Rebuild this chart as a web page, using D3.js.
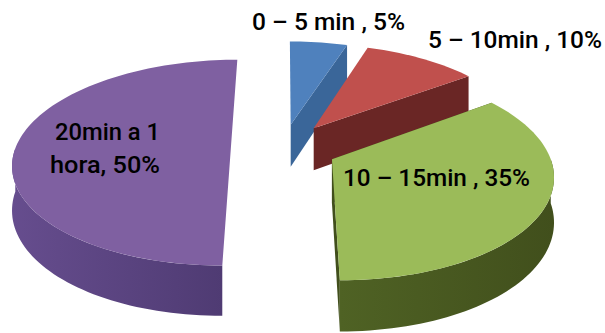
<!DOCTYPE html>
<html>
<head>
<meta charset="utf-8">
<style>
html,body{margin:0;padding:0;background:#fff;}
svg{display:block;}
text{font-family:Roboto,"Noto Sans",sans-serif;font-weight:500;fill:#000;}
</style>
<script src="https://cdn.jsdelivr.net/npm/d3@7/dist/d3.min.js"></script>
</head>
<body>
<svg id="chart" width="605" height="333"></svg>
<script>
// Time bands and their shares (%)
const categories = ["0 – 5 min", "5 – 10min", "10 – 15min", "20min a 1 hora"];
const shares = [5, 10, 35, 50];
const labelLines = [["0 – 5 min , 5%"], ["5 – 10min , 10%"], ["10 – 15min , 35%"], ["20min a 1", "hora, 50%"]];

// Face colours per slice
const topColors = ["#4f81bd", "#c0504d", "#9bbb59", "#7f60a1"];
const wallColors = [["#3f6ea6", "#3a6699"], ["#752c2b", "#6a2625"], ["#4f6224", "#414f1c"], ["#664d8e", "#4f3b73"]];

// Perspective camera: vanishing point, disc radius, tilt and extrusion
const vanishX = 284, vanishY = -579, planeDist = 739;
const radius = 219, tilt = 0.141, thickness = 44;
// Exploded placement of each slice on the ground plane
const offsetX = [7, 31, 48, -54];
const depth = [1.05, 1.045, 1.001, 1.016];
// Which straight side walls can be seen: [at start angle, at end angle]
const sideWalls = [[false, true], [false, true], [true, true], [false, false]];

// Label placement: line starts, baselines and set widths
const labelX = [[252], [428], [343], [55, 50]];
const labelY = [[30], [48], [186], [140, 173]];
const labelWidth = [[153], [174], [187], [105, 110]];

const svg = d3.select("#chart");
const defs = svg.append("defs");
wallColors.forEach((c, i) => {
  const g = defs.append("linearGradient").attr("id", "wall" + i)
    .attr("gradientUnits", "objectBoundingBox").attr("x1", 0).attr("x2", 1).attr("y1", 0).attr("y2", 0);
  g.append("stop").attr("offset", "0%").attr("stop-color", c[0]);
  g.append("stop").attr("offset", "100%").attr("stop-color", c[1]);
});

// Ground-plane point (polar, clockwise from far side) to screen coordinates
function project(i, angle, r, lift) {
  const u = Math.sin(angle) * r, v = Math.cos(angle) * r;
  const s = 1 / (depth[i] + tilt * v);
  return [vanishX + s * (offsetX[i] + radius * u),
          vanishY + planeDist * s + (lift ? thickness * s : 0)];
}

const pie = d3.pie().sort(null);
const arcs = pie(shares);
const line = d3.line();

function rimPoints(i, a0, a1, lift) {
  const n = Math.max(2, Math.ceil((a1 - a0) / 0.03));
  return d3.range(n + 1).map(k => project(i, a0 + (a1 - a0) * k / n, 1, lift));
}

// Painter's order follows the pie order: later slices sit in front
arcs.forEach((d, i) => {
  const g = svg.append("g").attr("class", "slice").attr("data-category", categories[i]);
  const a0 = d.startAngle, a1 = d.endAngle;
  const apexTop = project(i, 0, 0, false), apexLow = project(i, 0, 0, true);

  // straight side walls
  [[a0, sideWalls[i][0]], [a1, sideWalls[i][1]]].forEach(([a, show]) => {
    if (!show) return;
    g.append("path")
      .attr("d", line([apexTop, project(i, a, 1, false), project(i, a, 1, true), apexLow]) + "Z")
      .attr("fill", wallColors[i][1]);
  });

  // curved outer wall, only the part facing the viewer
  const front0 = Math.max(a0, Math.PI / 2), front1 = Math.min(a1, Math.PI * 1.5);
  if (front1 > front0) {
    const upper = rimPoints(i, front0, front1, false);
    const lower = rimPoints(i, front0, front1, true).reverse();
    g.append("path").attr("d", line(upper.concat(lower)) + "Z")
      .attr("fill", "url(#wall" + i + ")");
  }

  // top face
  g.append("path")
    .attr("d", line([apexTop].concat(rimPoints(i, a0, a1, false))) + "Z")
    .attr("fill", topColors[i]);
});

// Slice labels
labelLines.forEach((lines, i) => {
  lines.forEach((t, k) => {
    svg.append("text").attr("x", labelX[i][k]).attr("y", labelY[i][k])
      .attr("font-size", 24)
      .attr("textLength", labelWidth[i][k]).attr("lengthAdjust", "spacingAndGlyphs")
      .text(t);
  });
});
</script>
</body>
</html>
